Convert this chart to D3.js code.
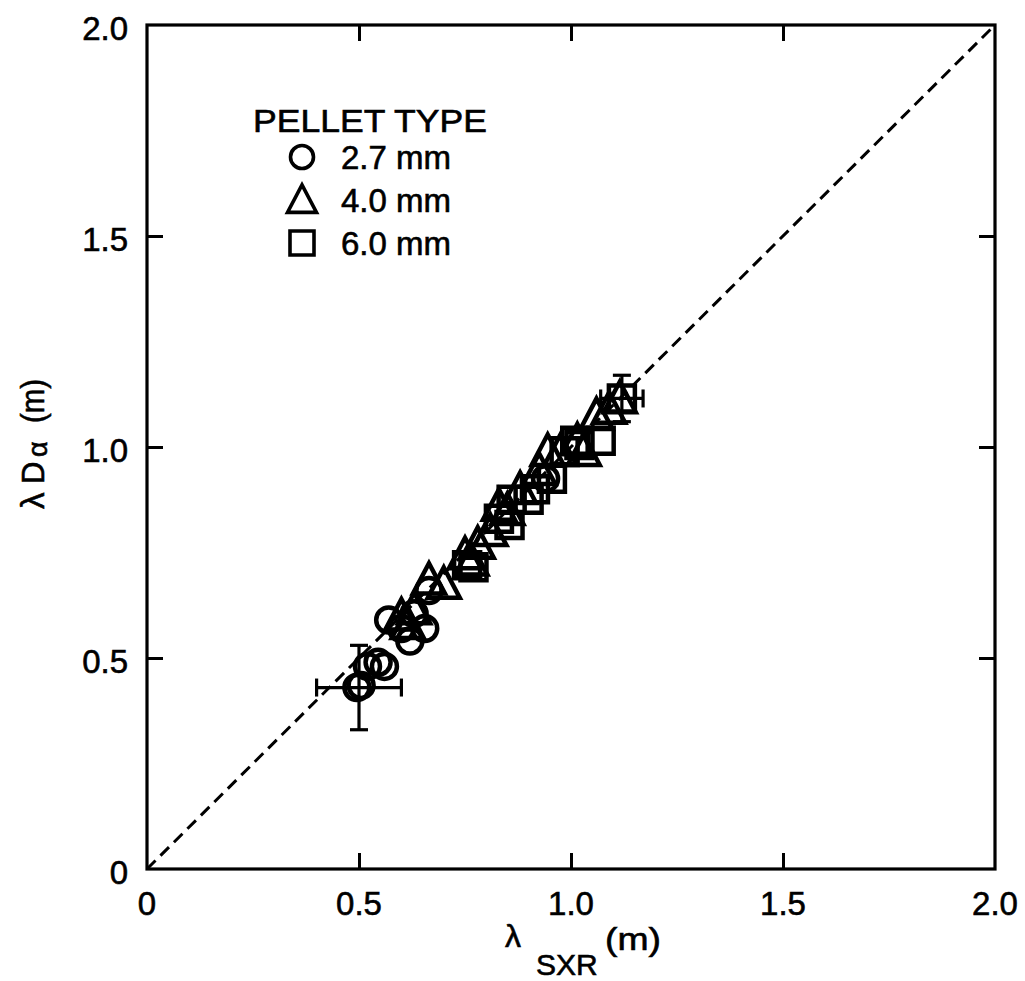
<!DOCTYPE html>
<html>
<head>
  <title>Pellet penetration</title>
  <script src="https://d3js.org/d3.v7.min.js"></script>
  <style>
    body { margin: 0; background: #fff; }
    text { font-family: "Liberation Sans", Arial, sans-serif; fill: #000; stroke: #000; stroke-width: 0.6px; }
  </style>
</head>
<body>
<svg></svg>
<script>

// data: lambda_SXR (x) vs lambda_D-alpha (y), metres
var circleX   = [0.495, 0.505, 0.52, 0.545, 0.56, 0.57, 0.60, 0.62, 0.655, 0.63, 0.665, 0.94];
var circleY   = [0.43, 0.435, 0.48, 0.49, 0.48, 0.59, 0.57, 0.54, 0.57, 0.605, 0.66, 0.925];
var triangleX = [0.60, 0.63, 0.615, 0.665, 0.70, 0.75, 0.765, 0.78, 0.81, 0.83, 0.85, 0.88, 0.925, 0.945, 0.975, 1.015, 1.03, 1.06, 1.09, 1.115];
var triangleY = [0.60, 0.615, 0.58, 0.685, 0.675, 0.745, 0.73, 0.77, 0.80, 0.86, 0.85, 0.90, 0.945, 0.99, 0.99, 1.015, 0.99, 1.075, 1.09, 1.115];
var squareX   = [0.755, 0.77, 0.83, 0.855, 0.86, 0.90, 0.915, 0.955, 0.985, 1.01, 1.02, 1.07, 1.12];
var squareY   = [0.72, 0.715, 0.83, 0.815, 0.875, 0.875, 0.90, 0.925, 0.99, 1.015, 1.005, 1.015, 1.115];

// representative error bars: [x, y, dx, dy]
var errorBars = [[0.50, 0.43, 0.10, 0.10], [1.12, 1.115, 0.05, 0.055]];

var tickValues = [0, 0.5, 1.0, 1.5, 2.0];
var tickLabels = ["0", "0.5", "1.0", "1.5", "2.0"];
var legendLabels = ["2.7 mm", "4.0 mm", "6.0 mm"];

var width = 1025, height = 981;
var svg = d3.select("svg").attr("width", width).attr("height", height);

var x = d3.scaleLinear().domain([0, 2]).range([147, 995]);
var y = d3.scaleLinear().domain([0, 2]).range([869, 25]);

// diagonal y = x
svg.append("line")
    .attr("x1", x(0)).attr("y1", y(0))
    .attr("x2", x(2)).attr("y2", y(2))
    .attr("stroke", "#000").attr("stroke-width", 3)
    .attr("stroke-dasharray", "12,7");

// frame + inward ticks on all sides
var tickLen = 16;
var inner = [0.5, 1.0, 1.5];
var axisB = d3.axisBottom(x).tickValues(inner).tickSize(-tickLen).tickFormat("");
var axisT = d3.axisTop(x).tickValues(inner).tickSize(-tickLen).tickFormat("");
var axisL = d3.axisLeft(y).tickValues(inner).tickSize(-tickLen).tickFormat("");
var axisR = d3.axisRight(y).tickValues(inner).tickSize(-tickLen).tickFormat("");
[[axisB, "translate(0," + y(0) + ")"], [axisT, "translate(0," + y(2) + ")"],
 [axisL, "translate(" + x(0) + ",0)"], [axisR, "translate(" + x(2) + ",0)"]].forEach(function(a) {
  var g = svg.append("g").attr("transform", a[1]).call(a[0]);
  g.selectAll("path").remove();
  g.selectAll("line").attr("stroke", "#000").attr("stroke-width", 3);
});
svg.append("rect")
    .attr("x", x(0)).attr("y", y(2))
    .attr("width", x(2) - x(0)).attr("height", y(0) - y(2))
    .attr("fill", "none").attr("stroke", "#000").attr("stroke-width", 3.2);

// tick labels
tickValues.forEach(function(v, i) {
  svg.append("text")
      .attr("x", x(v)).attr("y", y(0) + 46)
      .attr("text-anchor", "middle")
      .style("font-size", "33px")
      .text(tickLabels[i]);
  svg.append("text")
      .attr("x", x(0) - 19).attr("y", y(v) + 15)
      .attr("text-anchor", "end")
      .style("font-size", "33px")
      .text(tickLabels[i]);
});

// axis titles
var xt = svg.append("text").style("font-size", "32px");
xt.append("tspan").attr("x", 505).attr("y", 947).text("λ");
xt.append("tspan").attr("x", 536).attr("y", 975).style("font-size", "30px").text("SXR");
xt.append("tspan").attr("x", 605).attr("y", 950)
    .attr("textLength", 56).attr("lengthAdjust", "spacingAndGlyphs").text("(m)");

var yt = svg.append("g").attr("transform", "translate(44,443) rotate(-90)")
  .append("text").style("font-size", "33px");
yt.append("tspan").attr("x", -66).attr("y", 0).text("λ");
yt.append("tspan").attr("x", -41).attr("y", 0).style("font-size", "31px").text("D");
yt.append("tspan").attr("x", -14).attr("y", 3).style("font-size", "27px").text("α");
yt.append("tspan").attr("x", 20).attr("y", 0)
    .attr("textLength", 44).attr("lengthAdjust", "spacingAndGlyphs").text("(m)");

// marker shapes
function circlePath(cx, cy, s) { var r = s / 2; return "M" + (cx + r) + "," + cy + "A" + r + "," + r + " 0 1,1 " + (cx - r) + "," + cy + "A" + r + "," + r + " 0 1,1 " + (cx + r) + "," + cy + "Z"; }
function trianglePath(cx, cy, s) { var h = s * 0.95; return "M" + cx + "," + (cy - h * 0.55) + "L" + (cx + s / 2) + "," + (cy + h * 0.45) + "L" + (cx - s / 2) + "," + (cy + h * 0.45) + "Z"; }
function squarePath(cx, cy, s) { var r = s / 2; return "M" + (cx - r) + "," + (cy - r) + "h" + s + "v" + s + "h" + (-s) + "Z"; }

function drawSeries(xs, ys, shape, size) {
  svg.append("g").selectAll("path")
    .data(xs.map(function(v, i) { return [v, ys[i]]; }))
    .enter().append("path")
      .attr("d", function(d) { return shape(x(d[0]), y(d[1]), size); })
      .attr("fill", "none")
      .attr("stroke", "#000")
      .attr("stroke-width", 4.5)
      .attr("stroke-linejoin", "miter");
}
drawSeries(squareX, squareY, squarePath, 26);
drawSeries(triangleX, triangleY, trianglePath, 32);
drawSeries(circleX, circleY, circlePath, 25);

// error bars
var eb = svg.append("g").attr("stroke", "#000").attr("stroke-width", 3.2);
errorBars.forEach(function(e) {
  var cx = x(e[0]), cy = y(e[1]);
  eb.append("line").attr("x1", x(e[0] - e[2])).attr("x2", x(e[0] + e[2])).attr("y1", cy).attr("y2", cy);
  eb.append("line").attr("x1", cx).attr("x2", cx).attr("y1", y(e[1] - e[3])).attr("y2", y(e[1] + e[3]));
  eb.append("line").attr("x1", x(e[0] - e[2])).attr("x2", x(e[0] - e[2])).attr("y1", cy - 9).attr("y2", cy + 9);
  eb.append("line").attr("x1", x(e[0] + e[2])).attr("x2", x(e[0] + e[2])).attr("y1", cy - 9).attr("y2", cy + 9);
  eb.append("line").attr("x1", cx - 9).attr("x2", cx + 9).attr("y1", y(e[1] - e[3])).attr("y2", y(e[1] - e[3]));
  eb.append("line").attr("x1", cx - 9).attr("x2", cx + 9).attr("y1", y(e[1] + e[3])).attr("y2", y(e[1] + e[3]));
});

// legend
var leg = svg.append("g");
leg.append("text").attr("x", 253).attr("y", 132).style("font-size", "32px")
    .attr("textLength", 234).attr("lengthAdjust", "spacingAndGlyphs").text("PELLET TYPE");
var legShapes = [[circlePath, 23], [trianglePath, 29], [squarePath, 24]];
legendLabels.forEach(function(l, i) {
  var cy = 157 + i * 43;
  leg.append("path")
      .attr("d", legShapes[i][0](302, cy, legShapes[i][1]))
      .attr("fill", "none").attr("stroke", "#000").attr("stroke-width", 3.6);
  leg.append("text").attr("x", 341).attr("y", cy + 12).style("font-size", "33px").text(l);
});

</script>
</body>
</html>
